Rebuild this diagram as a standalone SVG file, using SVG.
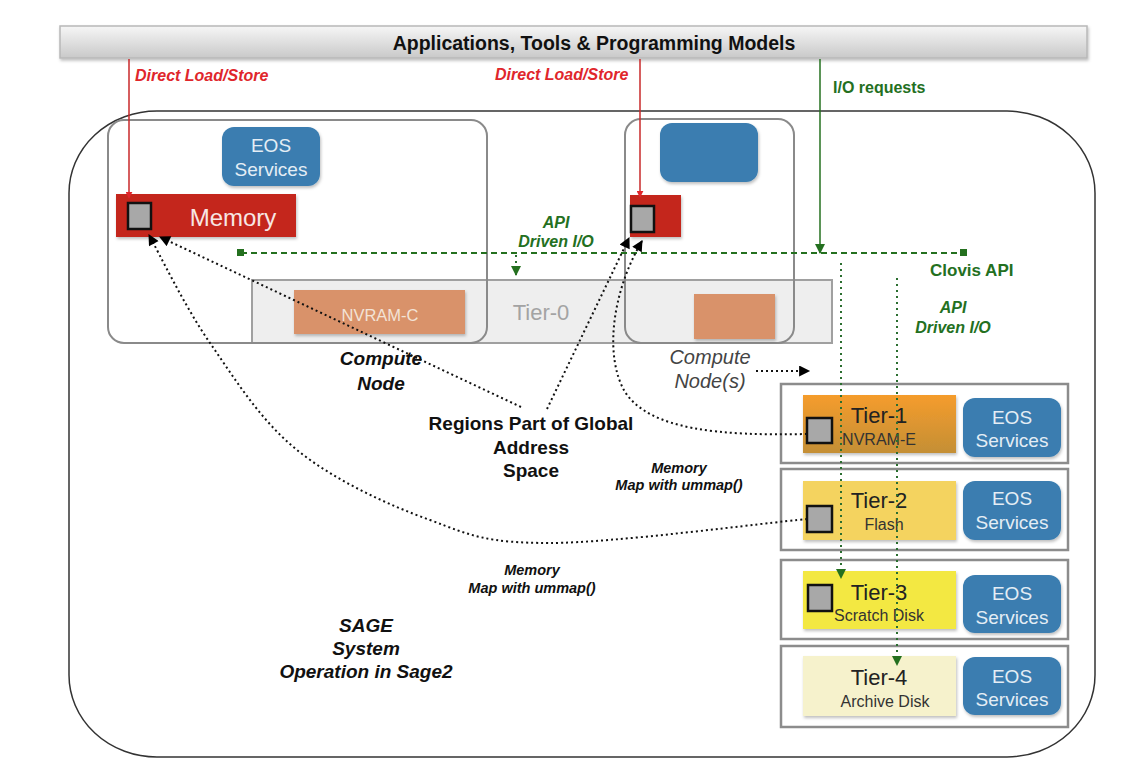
<svg xmlns="http://www.w3.org/2000/svg" width="1135" height="769" viewBox="0 0 1135 769">
<defs>
<linearGradient id="barGrad" x1="0" y1="0" x2="0" y2="1">
<stop offset="0" stop-color="#f6f6f6"/>
<stop offset="1" stop-color="#c9c9c9"/>
</linearGradient>
<linearGradient id="tier1Grad" x1="0" y1="0" x2="0" y2="1">
<stop offset="0" stop-color="#f59c2c"/>
<stop offset="1" stop-color="#c48f35"/>
</linearGradient>
<filter id="shadow" x="-10%" y="-10%" width="130%" height="140%">
<feDropShadow dx="1" dy="2" stdDeviation="1.5" flood-color="#000" flood-opacity="0.25"/>
</filter>
<marker id="arrowBlack" viewBox="0 0 10 10" markerUnits="userSpaceOnUse" markerWidth="12" markerHeight="11" refX="9" refY="5" orient="auto">
<path d="M0,0 L10,5 L0,10 z" fill="#000"/>
</marker>
<marker id="arrowGreen" viewBox="0 0 10 10" markerUnits="userSpaceOnUse" markerWidth="10" markerHeight="10" refX="9" refY="5" orient="auto">
<path d="M0,0 L10,5 L0,10 z" fill="#24701f"/>
</marker>
<marker id="arrowRed" viewBox="0 0 10 10" markerUnits="userSpaceOnUse" markerWidth="7" markerHeight="7" refX="9" refY="5" orient="auto">
<path d="M0,0 L10,5 L0,10 z" fill="#e0262b"/>
</marker>
</defs>
<style>
text { font-family: "Liberation Sans", Arial, Helvetica, sans-serif; }
.node { fill: none; stroke: #8a8a8a; stroke-width: 2; }
.eos { fill: #3a7db0; }
.eosText { fill: #e4edf5; font-size: 19px; text-anchor: middle; }
.tierBox { fill: #ffffff; stroke: #8c8c8c; stroke-width: 2.5; }
.tierTitle { fill: #222; font-size: 22px; text-anchor: middle; }
.tierSub { fill: #333; font-size: 16px; text-anchor: middle; }
.gsq { fill: #a8a8a8; stroke: #111; stroke-width: 2.5; }
.red { fill: #e0262b; font-size: 16px; font-weight: bold; font-style: italic; }
.green { fill: #24701f; font-weight: bold; }
.greenI { fill: #24701f; font-weight: bold; font-style: italic; font-size: 16px; text-anchor: middle; }
.bi { fill: #111; font-weight: bold; font-style: italic; text-anchor: middle; }
.b { fill: #111; font-weight: bold; text-anchor: middle; font-size: 19px; }
.dot { fill: none; stroke: #111; stroke-width: 2; stroke-dasharray: 2 3; }
.gdot { fill: none; stroke: #2b6e30; stroke-width: 2; stroke-dasharray: 2 4; }
.gdash { fill: none; stroke: #24701f; stroke-width: 2; stroke-dasharray: 6 4; }
</style>

<!-- Top bar -->
<g id="apps">
<rect x="60" y="26" width="1027" height="32" fill="url(#barGrad)" stroke="#b8b8b8" stroke-width="1.5" filter="url(#shadow)"/>
<text x="594" y="50" font-size="19.5" font-weight="bold" fill="#111" text-anchor="middle">Applications, Tools &amp; Programming Models</text>
</g>

<!-- SAGE system outer -->
<g id="sage-system">
<rect x="69" y="111" width="1026" height="646" rx="88" ry="82" fill="none" stroke="#333" stroke-width="1.5"/>
<text class="bi" x="366" y="632" font-size="19">SAGE</text>
<text class="bi" x="366" y="655" font-size="19">System</text>
<text class="bi" x="366" y="678" font-size="19">Operation in Sage2</text>
</g>

<!-- Tier-0 band -->
<g id="tier0">
<rect x="252" y="280" width="580" height="63" fill="#eeeeee" stroke="#a0a0a0" stroke-width="2"/>
<text x="541" y="320" font-size="22" fill="#a3a3a3" text-anchor="middle">Tier-0</text>
</g>

<!-- Left compute node -->
<g id="compute-node">
<rect class="node" x="108" y="120" width="379" height="223" rx="16"/>
<g id="eos-left">
<rect class="eos" x="222" y="127" width="98" height="59" rx="12" filter="url(#shadow)"/>
<text class="eosText" x="271" y="152">EOS</text>
<text class="eosText" x="271" y="176">Services</text>
</g>
<g id="memory-left">
<rect x="116" y="194" width="180" height="43" fill="#c4281c" filter="url(#shadow)"/>
<text x="233" y="226" font-size="24" fill="#f7e6e4" text-anchor="middle">Memory</text>
<rect class="gsq" x="128" y="203" width="23" height="26"/>
</g>
<g id="nvram-c">
<rect x="294" y="290" width="171" height="44" fill="#d9926a" filter="url(#shadow)"/>
<text x="380" y="321" font-size="16.5" fill="#f3e3d6" text-anchor="middle">NVRAM-C</text>
</g>
<text class="bi" x="381" y="365" font-size="19">Compute</text>
<text class="bi" x="381" y="390" font-size="19">Node</text>
</g>

<!-- Right compute node(s) -->
<g id="compute-nodes">
<rect class="node" x="625" y="119" width="169" height="224" rx="16"/>
<rect class="eos" x="660" y="123" width="98" height="59" rx="12" filter="url(#shadow)"/>
<rect x="630" y="195" width="51" height="42" fill="#c4281c" filter="url(#shadow)"/>
<rect class="gsq" x="631" y="206" width="23" height="26"/>
<rect x="694" y="294" width="81" height="45" fill="#d9926a" filter="url(#shadow)"/>
<text x="710" y="364" font-size="20" font-style="italic" fill="#444" text-anchor="middle">Compute</text>
<text x="710" y="388" font-size="20" font-style="italic" fill="#444" text-anchor="middle">Node(s)</text>
</g>

<!-- Tier boxes -->
<g id="tier1">
<rect class="tierBox" x="781" y="384" width="287" height="79"/>
<rect x="803" y="395" width="153" height="58" fill="url(#tier1Grad)" filter="url(#shadow)"/>
<text class="tierTitle" x="879" y="423">Tier-1</text>
<text class="tierSub" x="879" y="445">NVRAM-E</text>
<rect class="gsq" x="807" y="418" width="25" height="25"/>
<rect class="eos" x="963" y="398" width="98" height="59" rx="12" filter="url(#shadow)"/>
<text class="eosText" x="1012" y="424">EOS</text>
<text class="eosText" x="1012" y="447">Services</text>
</g>
<g id="tier2">
<rect class="tierBox" x="781" y="469" width="287" height="81"/>
<rect x="803" y="481" width="153" height="59" fill="#f4d35e" filter="url(#shadow)"/>
<text class="tierTitle" x="879" y="508">Tier-2</text>
<text class="tierSub" x="884" y="530">Flash</text>
<rect class="gsq" x="807" y="506" width="25" height="26"/>
<rect class="eos" x="963" y="481" width="98" height="59" rx="12" filter="url(#shadow)"/>
<text class="eosText" x="1012" y="505">EOS</text>
<text class="eosText" x="1012" y="529">Services</text>
</g>
<g id="tier3">
<rect class="tierBox" x="781" y="560" width="287" height="79"/>
<rect x="803" y="571" width="153" height="58" fill="#f3e843" filter="url(#shadow)"/>
<text class="tierTitle" x="879" y="600">Tier-3</text>
<text class="tierSub" x="879" y="621">Scratch Disk</text>
<rect class="gsq" x="808" y="585" width="24" height="26"/>
<rect class="eos" x="963" y="575" width="98" height="58" rx="12" filter="url(#shadow)"/>
<text class="eosText" x="1012" y="600">EOS</text>
<text class="eosText" x="1012" y="624">Services</text>
</g>
<g id="tier4">
<rect class="tierBox" x="781" y="646" width="287" height="81"/>
<rect x="803" y="656" width="153" height="60" fill="#f6f2cc" filter="url(#shadow)"/>
<text class="tierTitle" x="879" y="685">Tier-4</text>
<text class="tierSub" x="885" y="707">Archive Disk</text>
<rect class="eos" x="963" y="657" width="98" height="58" rx="12" filter="url(#shadow)"/>
<text class="eosText" x="1012" y="683">EOS</text>
<text class="eosText" x="1012" y="706">Services</text>
</g>

<!-- Connectors -->
<g id="connectors">
<line x1="129" y1="59" x2="129" y2="198" stroke="#c8282a" stroke-width="1.5" marker-end="url(#arrowRed)"/>
<line x1="640" y1="59" x2="640" y2="197" stroke="#c8282a" stroke-width="1.5" marker-end="url(#arrowRed)"/>
<line x1="820" y1="59" x2="820" y2="253" stroke="#24701f" stroke-width="1.5" marker-end="url(#arrowGreen)"/>
<line class="gdash" x1="241" y1="253" x2="963" y2="253"/>
<rect x="237" y="249" width="7" height="7" fill="#24701f"/>
<rect x="960" y="249" width="7" height="7" fill="#24701f"/>
<line class="gdot" x1="516" y1="255" x2="516" y2="275" marker-end="url(#arrowGreen)"/>
<line class="gdot" x1="841" y1="263" x2="841" y2="578" marker-end="url(#arrowGreen)"/>
<line class="gdot" x1="897" y1="278" x2="897" y2="665" marker-end="url(#arrowGreen)"/>
<path class="dot" d="M521,407 L160,237" marker-end="url(#arrowBlack)"/>
<path class="dot" d="M547,409 L629,238" marker-end="url(#arrowBlack)"/>
<path class="dot" d="M807,519 C764,523 613,543 550,543 C487,543 472,536 430,520 C388,505 334,480 297,450 C260,420 235,379 210,343 C185,307 159,253 149,235" marker-end="url(#arrowBlack)"/>
<path class="dot" d="M807,434 C720,436 650,430 625,392 C604,356 612,292 642,241" marker-end="url(#arrowBlack)"/>
<line class="dot" x1="756" y1="371" x2="809" y2="371" marker-end="url(#arrowBlack)"/>
</g>

<!-- Labels -->
<g id="labels">
<text class="red" x="135" y="81">Direct Load/Store</text>
<text class="red" x="495" y="80">Direct Load/Store</text>
<text class="green" x="833" y="93" font-size="16">I/O requests</text>
<text class="green" x="930" y="276" font-size="17">Clovis API</text>
<text class="greenI" x="556" y="228">API</text>
<text class="greenI" x="556" y="247">Driven I/O</text>
<text class="greenI" x="953" y="313">API</text>
<text class="greenI" x="953" y="333">Driven I/O</text>
<text class="b" x="531" y="430">Regions Part of Global</text>
<text class="b" x="531" y="454">Address</text>
<text class="b" x="531" y="477">Space</text>
<text class="bi" x="679" y="473" font-size="14.5">Memory</text>
<text class="bi" x="679" y="490" font-size="14.5">Map with ummap()</text>
<text class="bi" x="532" y="575" font-size="14.5">Memory</text>
<text class="bi" x="532" y="593" font-size="14.5">Map with ummap()</text>
</g>
</svg>
